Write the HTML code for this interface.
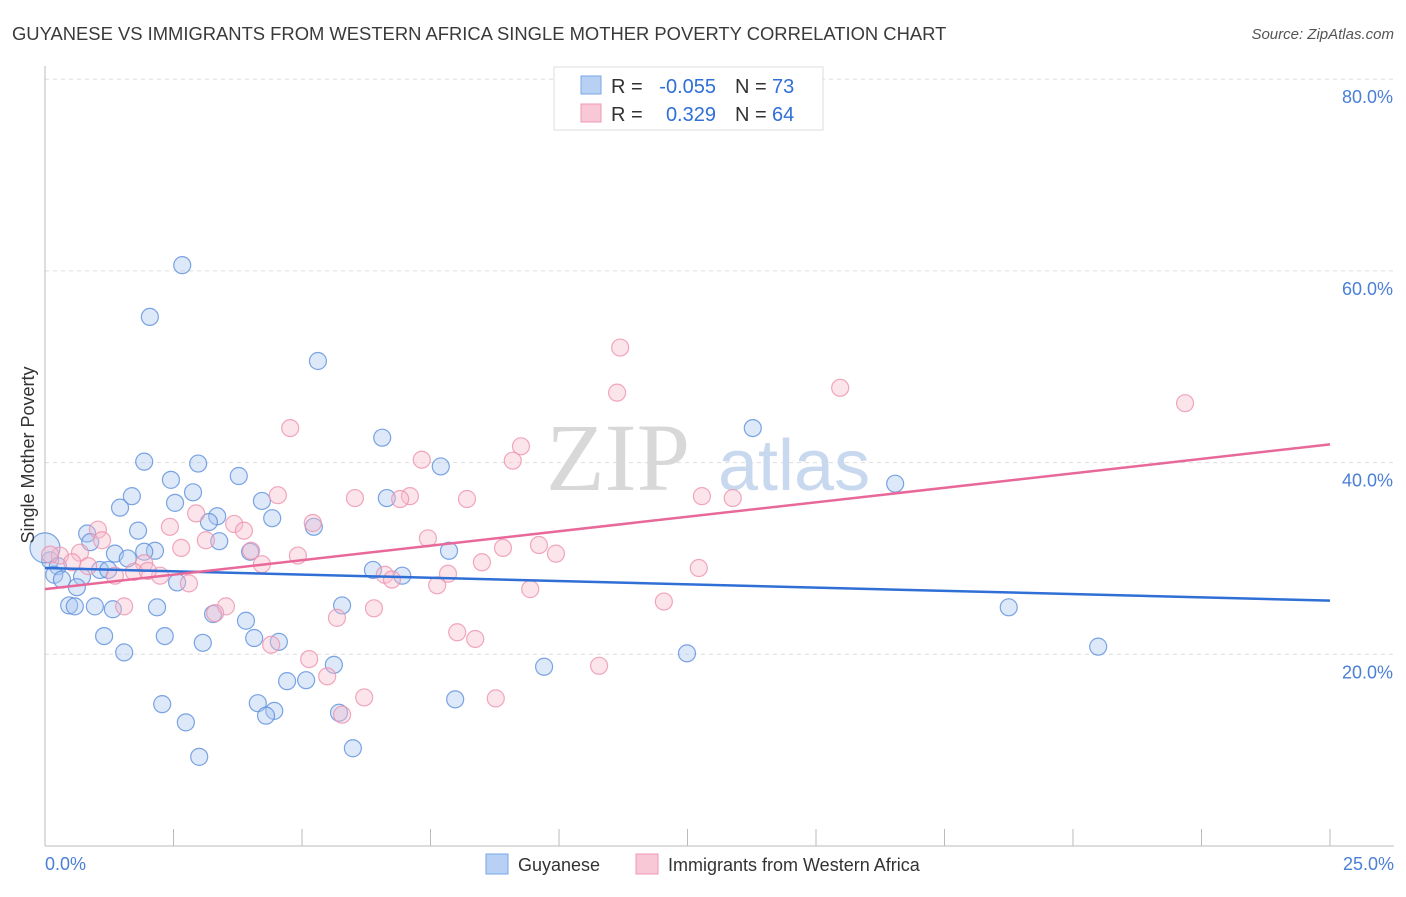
<!DOCTYPE html>
<html><head><meta charset="utf-8"><style>
body{margin:0;background:#fff;font-family:"Liberation Sans",sans-serif;}
</style></head><body>
<svg width="1406" height="892" xmlns="http://www.w3.org/2000/svg">
<text x="12" y="40" font-size="18.4" fill="#3a3a3a">GUYANESE VS IMMIGRANTS FROM WESTERN AFRICA SINGLE MOTHER POVERTY CORRELATION CHART</text>
<text x="1394" y="39" font-size="15" fill="#555" text-anchor="end" font-style="italic">Source: ZipAtlas.com</text>
<g id="grid"></g>
<text x="690" y="490" font-size="96" fill="#d8d8d8" text-anchor="end" font-family="Liberation Serif">ZIP</text>
<text x="718" y="490" font-size="72" fill="#c8d8ee">atlas</text>
<g id="pts"></g>
<g id="lines"></g>
<text transform="translate(34,455) rotate(-90)" font-size="18" fill="#333" text-anchor="middle">Single Mother Poverty</text>
<text x="45" y="870" font-size="18" fill="#4a7fd6">0.0%</text>
<text x="1394" y="870" font-size="18" fill="#4a7fd6" text-anchor="end">25.0%</text>
<g>
<rect x="554" y="67" width="269" height="63" fill="#fff" stroke="#ddd"/>
<rect x="581" y="76" width="20" height="18" fill="#b8d0f4" stroke="#7aa6e6"/>
<rect x="581" y="104" width="20" height="18" fill="#f9c8d6" stroke="#ee98b2"/>
<text x="611" y="93" font-size="20" fill="#333">R =</text>
<text x="716" y="93" font-size="20" fill="#2f6fd6" text-anchor="end">-0.055</text>
<text x="735" y="93" font-size="20" fill="#333">N =</text>
<text x="772" y="93" font-size="20" fill="#2f6fd6">73</text>
<text x="611" y="121" font-size="20" fill="#333">R =</text>
<text x="716" y="121" font-size="20" fill="#2f6fd6" text-anchor="end">0.329</text>
<text x="735" y="121" font-size="20" fill="#333">N =</text>
<text x="772" y="121" font-size="20" fill="#2f6fd6">64</text>
</g>
<g>
<rect x="486" y="854" width="22" height="20" fill="#b8d0f4" stroke="#7aa6e6"/>
<text x="518" y="871" font-size="18" fill="#333">Guyanese</text>
<rect x="636" y="854" width="22" height="20" fill="#f9c8d6" stroke="#ee98b2"/>
<text x="668" y="871" font-size="18" fill="#333">Immigrants from Western Africa</text>
</g>
</svg>
<script>
const yTicks=[20,40,60,80];
const xTicks=[0,2.5,5,7.5,10,12.5,15,17.5,20,22.5,25];
const blueX=[2.67,2.04,5.31,6.56,13.77,1.93,2.98,7.70,3.77,2.45,2.88,1.69,6.65,16.54,4.22,2.53,1.46,3.35,3.19,4.42,5.23,1.81,0.82,0.88,3.39,2.14,1.93,1.36,1.61,3.99,7.86,0.10,0.25,1.07,1.23,0.18,0.72,0.33,6.38,6.95,2.57,0.62,0.47,0.58,0.97,1.32,2.18,5.78,18.75,3.27,3.91,1.15,2.33,4.07,4.55,3.07,1.54,12.49,20.49,5.62,9.71,4.71,5.08,2.28,4.14,4.46,4.30,5.72,7.98,2.74,5.99,3.00,0.0];
const blueY=[60.6,55.2,50.6,42.6,43.6,40.1,39.9,39.6,38.6,38.2,36.9,36.5,36.3,37.8,36.0,35.8,35.3,34.4,33.8,34.2,33.3,32.9,32.6,31.7,31.8,30.8,30.7,30.5,30.0,30.7,30.8,29.8,29.2,28.8,28.8,28.3,28.1,27.8,28.8,28.2,27.5,27.0,25.1,25.0,25.0,24.7,24.9,25.1,24.9,24.2,23.5,21.9,21.9,21.7,21.3,21.2,20.2,20.1,20.8,18.9,18.7,17.2,17.3,14.8,14.9,14.1,13.6,13.9,15.3,12.9,10.2,9.3,31.1];
const pinkX=[11.19,15.47,11.13,22.18,4.77,9.26,7.33,9.10,4.53,6.03,7.10,8.21,12.78,13.38,6.91,2.94,5.21,3.68,1.03,2.43,3.87,1.11,7.45,3.13,9.61,2.65,8.91,9.94,0.68,4.92,4.01,0.29,0.53,0.84,1.93,4.22,8.50,12.72,1.73,1.36,2.24,2.00,6.61,6.75,7.84,2.80,7.63,9.44,12.04,3.52,1.54,3.31,6.40,5.68,8.02,8.37,4.40,5.14,10.78,5.49,6.21,8.77,5.78,0.10];
const pinkY=[52.0,47.8,47.3,46.2,43.6,41.7,40.3,40.2,36.6,36.3,36.5,36.2,36.5,36.3,36.2,34.7,33.7,33.6,33.0,33.3,32.9,31.9,32.1,31.9,31.4,31.1,31.1,30.5,30.6,30.3,30.8,30.3,29.6,29.2,29.5,29.4,29.6,29.0,28.6,28.2,28.2,28.7,28.3,27.8,28.4,27.4,27.2,26.8,25.5,25.0,25.0,24.3,24.8,23.8,22.3,21.6,21.0,19.5,18.8,17.7,15.5,15.4,13.7,30.4];
const blueTrend=[29.0,25.6];
const pinkTrend=[26.8,41.9];
const NS='http://www.w3.org/2000/svg';
const X=v=>45+v/25*1285;
const Y=v=>846-v*9.585;
function mk(t,a,p){const e=document.createElementNS(NS,t);for(const k in a)e.setAttribute(k,a[k]);p.appendChild(e);return e;}
const g=document.getElementById('grid');
yTicks.forEach(t=>{
 const l=mk('line',{x1:45,x2:1394,y1:Y(t),y2:Y(t),stroke:'#ddd','stroke-dasharray':'4,4'},g);
 
 
 const tx=mk('text',{x:1393,y:Y(t)+24,'font-size':18,fill:'#4a7fd6','text-anchor':'end'},g);
 tx.textContent=t.toFixed(1)+'%';
 
 
});
const ax=mk('line',{x1:45,x2:45,y1:66,y2:846,stroke:'#bbb'},g);


const bx=mk('line',{x1:45,x2:1394,y1:846,y2:846,stroke:'#bbb'},g);


xTicks.forEach(t=>{
 const l=mk('line',{x1:X(t),x2:X(t),y1:829,y2:846,stroke:'#bbb'},g);
 
 
});
const pg=document.getElementById('pts');
function pts(xs,ys,fill,stroke,name){
 xs.forEach((x,i)=>{
  const c=mk('circle',{cx:X(x),cy:Y(ys[i]),r:(x===0?15:8.5),fill:fill,'fill-opacity':0.4,stroke:stroke,'stroke-opacity':0.8,'stroke-width':1.2},pg);
  
  
 });
}
pts(blueX,blueY,'#a9c6f0','#5b8fdc','point-guyanese');
pts(pinkX,pinkY,'#f7bccd','#ec92ae','point-western-africa');
const lg=document.getElementById('lines');
const bl=mk('line',{x1:X(0),x2:X(25),y1:Y(blueTrend[0]),y2:Y(blueTrend[1]),stroke:'#2f6fd6','stroke-width':2.5},lg);


const pl=mk('line',{x1:X(0),x2:X(25),y1:Y(pinkTrend[0]),y2:Y(pinkTrend[1]),stroke:'#e8689a','stroke-width':2.5},lg);


</script>
</body></html>
